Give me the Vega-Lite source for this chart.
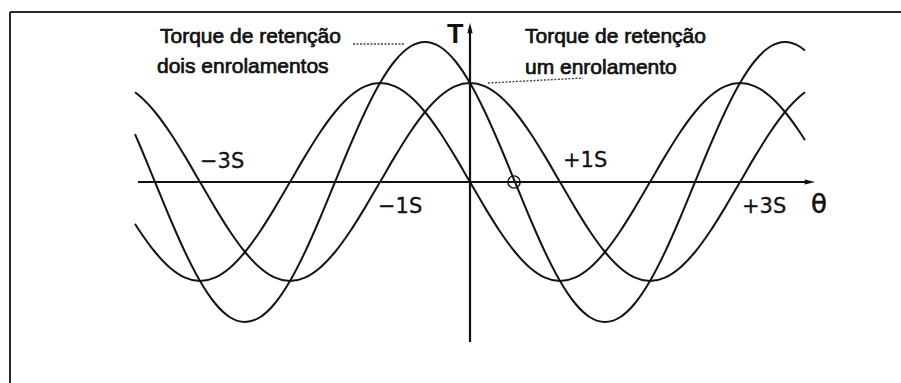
{
  "$schema": "https://vega.github.io/schema/vega-lite/v6.json",
  "width": 901,
  "height": 383,
  "autosize": "none",
  "padding": 0,
  "background": "white",
  "config": {"view": {"stroke": null}, "font": "Liberation Sans"},
  "data": {"values": [{}]},
  "encoding": {
    "x": {"type": "quantitative", "scale": {"domain": [-470, 431], "nice": false, "zero": false}, "axis": null},
    "y": {"type": "quantitative", "scale": {"domain": [-2.0303, 1.8384], "nice": false, "zero": false}, "axis": null}
  },
  "layer": [
    {
      "data": {"values": [
        {"theta": -335, "fase_A": 0.9063, "fase_B": -0.4226, "dois_enrolamentos": 0.4837},
        {"theta": -330, "fase_A": 0.866, "fase_B": -0.5, "dois_enrolamentos": 0.366},
        {"theta": -315, "fase_A": 0.7071, "fase_B": -0.7071, "dois_enrolamentos": 0},
        {"theta": -300, "fase_A": 0.5, "fase_B": -0.866, "dois_enrolamentos": -0.366},
        {"theta": -285, "fase_A": 0.2588, "fase_B": -0.9659, "dois_enrolamentos": -0.7071},
        {"theta": -270, "fase_A": 0, "fase_B": -1, "dois_enrolamentos": -1},
        {"theta": -255, "fase_A": -0.2588, "fase_B": -0.9659, "dois_enrolamentos": -1.2247},
        {"theta": -240, "fase_A": -0.5, "fase_B": -0.866, "dois_enrolamentos": -1.366},
        {"theta": -225, "fase_A": -0.7071, "fase_B": -0.7071, "dois_enrolamentos": -1.4142},
        {"theta": -210, "fase_A": -0.866, "fase_B": -0.5, "dois_enrolamentos": -1.366},
        {"theta": -195, "fase_A": -0.9659, "fase_B": -0.2588, "dois_enrolamentos": -1.2247},
        {"theta": -180, "fase_A": -1, "fase_B": 0, "dois_enrolamentos": -1},
        {"theta": -165, "fase_A": -0.9659, "fase_B": 0.2588, "dois_enrolamentos": -0.7071},
        {"theta": -150, "fase_A": -0.866, "fase_B": 0.5, "dois_enrolamentos": -0.366},
        {"theta": -135, "fase_A": -0.7071, "fase_B": 0.7071, "dois_enrolamentos": 0},
        {"theta": -120, "fase_A": -0.5, "fase_B": 0.866, "dois_enrolamentos": 0.366},
        {"theta": -105, "fase_A": -0.2588, "fase_B": 0.9659, "dois_enrolamentos": 0.7071},
        {"theta": -90, "fase_A": 0, "fase_B": 1, "dois_enrolamentos": 1},
        {"theta": -75, "fase_A": 0.2588, "fase_B": 0.9659, "dois_enrolamentos": 1.2247},
        {"theta": -60, "fase_A": 0.5, "fase_B": 0.866, "dois_enrolamentos": 1.366},
        {"theta": -45, "fase_A": 0.7071, "fase_B": 0.7071, "dois_enrolamentos": 1.4142},
        {"theta": -30, "fase_A": 0.866, "fase_B": 0.5, "dois_enrolamentos": 1.366},
        {"theta": -15, "fase_A": 0.9659, "fase_B": 0.2588, "dois_enrolamentos": 1.2247},
        {"theta": 0, "fase_A": 1, "fase_B": 0, "dois_enrolamentos": 1},
        {"theta": 15, "fase_A": 0.9659, "fase_B": -0.2588, "dois_enrolamentos": 0.7071},
        {"theta": 30, "fase_A": 0.866, "fase_B": -0.5, "dois_enrolamentos": 0.366},
        {"theta": 45, "fase_A": 0.7071, "fase_B": -0.7071, "dois_enrolamentos": 0},
        {"theta": 60, "fase_A": 0.5, "fase_B": -0.866, "dois_enrolamentos": -0.366},
        {"theta": 75, "fase_A": 0.2588, "fase_B": -0.9659, "dois_enrolamentos": -0.7071},
        {"theta": 90, "fase_A": 0, "fase_B": -1, "dois_enrolamentos": -1},
        {"theta": 105, "fase_A": -0.2588, "fase_B": -0.9659, "dois_enrolamentos": -1.2247},
        {"theta": 120, "fase_A": -0.5, "fase_B": -0.866, "dois_enrolamentos": -1.366},
        {"theta": 135, "fase_A": -0.7071, "fase_B": -0.7071, "dois_enrolamentos": -1.4142},
        {"theta": 150, "fase_A": -0.866, "fase_B": -0.5, "dois_enrolamentos": -1.366},
        {"theta": 165, "fase_A": -0.9659, "fase_B": -0.2588, "dois_enrolamentos": -1.2247},
        {"theta": 180, "fase_A": -1, "fase_B": 0, "dois_enrolamentos": -1},
        {"theta": 195, "fase_A": -0.9659, "fase_B": 0.2588, "dois_enrolamentos": -0.7071},
        {"theta": 210, "fase_A": -0.866, "fase_B": 0.5, "dois_enrolamentos": -0.366},
        {"theta": 225, "fase_A": -0.7071, "fase_B": 0.7071, "dois_enrolamentos": 0},
        {"theta": 240, "fase_A": -0.5, "fase_B": 0.866, "dois_enrolamentos": 0.366},
        {"theta": 255, "fase_A": -0.2588, "fase_B": 0.9659, "dois_enrolamentos": 0.7071},
        {"theta": 270, "fase_A": 0, "fase_B": 1, "dois_enrolamentos": 1},
        {"theta": 285, "fase_A": 0.2588, "fase_B": 0.9659, "dois_enrolamentos": 1.2247},
        {"theta": 300, "fase_A": 0.5, "fase_B": 0.866, "dois_enrolamentos": 1.366},
        {"theta": 315, "fase_A": 0.7071, "fase_B": 0.7071, "dois_enrolamentos": 1.4142},
        {"theta": 330, "fase_A": 0.866, "fase_B": 0.5, "dois_enrolamentos": 1.366},
        {"theta": 335, "fase_A": 0.9063, "fase_B": 0.4226, "dois_enrolamentos": 1.3289}
      ]},
      "transform": [{"fold": ["fase_A", "fase_B", "dois_enrolamentos"], "as": ["curva", "T"]}],
      "mark": {"type": "line", "interpolate": "monotone", "color": "#141414", "strokeWidth": 2},
      "encoding": {
        "x": {"field": "theta", "type": "quantitative"},
        "y": {"field": "T", "type": "quantitative"},
        "detail": {"field": "curva"}
      }
    },
    {
      "mark": {"type": "rule", "color": "#111", "strokeWidth": 2.2},
      "encoding": {"x": {"datum": -332}, "x2": {"datum": 340}, "y": {"datum": 0}}
    },
    {
      "mark": {"type": "rule", "color": "#111", "strokeWidth": 2.2},
      "encoding": {"x": {"datum": 0}, "y": {"datum": -1.6162}, "y2": {"datum": 1.5556}}
    },
    {
      "mark": {"type": "point", "shape": "M-1,-0.5L1,0L-1,0.5Z", "size": 110, "filled": true, "color": "#111", "opacity": 1},
      "encoding": {"x": {"datum": 340}, "y": {"datum": 0}}
    },
    {
      "mark": {"type": "point", "shape": "M0,-1L0.5,1L-0.5,1Z", "size": 110, "filled": true, "color": "#111", "opacity": 1},
      "encoding": {"x": {"datum": 0}, "y": {"datum": 1.5556}}
    },
    {
      "mark": {"type": "rule", "color": "#2a2a2a", "strokeWidth": 2},
      "encoding": {"x": {"datum": -460}, "x2": {"datum": 431}, "y": {"datum": 1.7172}}
    },
    {
      "mark": {"type": "rule", "color": "#2a2a2a", "strokeWidth": 2},
      "encoding": {"x": {"datum": -460}, "y": {"datum": 1.7172}, "y2": {"datum": -2.0303}}
    },
    {
      "mark": {"type": "rule", "color": "#444", "strokeWidth": 1.4, "strokeDash": [2, 1.5]},
      "encoding": {"x": {"datum": -117}, "x2": {"datum": -65}, "y": {"datum": 1.394}}
    },
    {
      "mark": {"type": "rule", "color": "#444", "strokeWidth": 1.4, "strokeDash": [2, 1.5]},
      "encoding": {"x": {"datum": 18}, "y": {"datum": 1.0}, "x2": {"datum": 113}, "y2": {"datum": 1.0505}}
    },
    {
      "mark": {"type": "point", "shape": "circle", "size": 150, "filled": false, "color": "#111", "strokeWidth": 1.4, "opacity": 1},
      "encoding": {"x": {"datum": 44}, "y": {"datum": 0}}
    },
    {
      "mark": {"type": "point", "shape": "circle", "size": 5, "filled": true, "color": "#111", "opacity": 1},
      "encoding": {"x": {"datum": 44}, "y": {"datum": 0}}
    },
    {
      "mark": {"type": "text", "align": "left", "baseline": "alphabetic", "font": "Liberation Sans", "fontSize": 21, "fill": "#111", "stroke": "#111", "strokeWidth": 0.7},
      "encoding": {"x": {"datum": -310}, "y": {"datum": 1.404}, "text": {"datum": "Torque de retenção"}}
    },
    {
      "mark": {"type": "text", "align": "left", "baseline": "alphabetic", "font": "Liberation Sans", "fontSize": 21, "fill": "#111", "stroke": "#111", "strokeWidth": 0.7},
      "encoding": {"x": {"datum": -313}, "y": {"datum": 1.101}, "text": {"datum": "dois enrolamentos"}}
    },
    {
      "mark": {"type": "text", "align": "left", "baseline": "alphabetic", "font": "Liberation Sans", "fontSize": 21, "fill": "#111", "stroke": "#111", "strokeWidth": 0.7},
      "encoding": {"x": {"datum": 55}, "y": {"datum": 1.404}, "text": {"datum": "Torque de retenção"}}
    },
    {
      "mark": {"type": "text", "align": "left", "baseline": "alphabetic", "font": "Liberation Sans", "fontSize": 21, "fill": "#111", "stroke": "#111", "strokeWidth": 0.7},
      "encoding": {"x": {"datum": 55}, "y": {"datum": 1.091}, "text": {"datum": "um enrolamento"}}
    },
    {
      "mark": {"type": "text", "align": "left", "baseline": "alphabetic", "font": "Liberation Sans", "fontSize": 27, "fontWeight": "bold", "fill": "#111"},
      "encoding": {"x": {"datum": -23}, "y": {"datum": 1.404}, "text": {"datum": "T"}}
    },
    {
      "mark": {"type": "text", "align": "left", "baseline": "alphabetic", "font": "DejaVu Sans", "fontSize": 21, "fill": "#111", "stroke": "#111", "strokeWidth": 0.3},
      "encoding": {"x": {"datum": -270}, "y": {"datum": 0.1414}, "text": {"datum": "−3S"}}
    },
    {
      "mark": {"type": "text", "align": "left", "baseline": "alphabetic", "font": "DejaVu Sans", "fontSize": 21, "fill": "#111", "stroke": "#111", "strokeWidth": 0.3},
      "encoding": {"x": {"datum": -92}, "y": {"datum": -0.3131}, "text": {"datum": "−1S"}}
    },
    {
      "mark": {"type": "text", "align": "left", "baseline": "alphabetic", "font": "DejaVu Sans", "fontSize": 21, "fill": "#111", "stroke": "#111", "strokeWidth": 0.3},
      "encoding": {"x": {"datum": 93}, "y": {"datum": 0.1515}, "text": {"datum": "+1S"}}
    },
    {
      "mark": {"type": "text", "align": "left", "baseline": "alphabetic", "font": "DejaVu Sans", "fontSize": 21, "fill": "#111", "stroke": "#111", "strokeWidth": 0.3},
      "encoding": {"x": {"datum": 272}, "y": {"datum": -0.3131}, "text": {"datum": "+3S"}}
    },
    {
      "mark": {"type": "text", "align": "left", "baseline": "alphabetic", "font": "DejaVu Sans", "fontSize": 26, "fill": "#111", "stroke": "#111", "strokeWidth": 0.5},
      "encoding": {"x": {"datum": 341}, "y": {"datum": -0.3131}, "text": {"datum": "θ"}}
    }
  ]
}
